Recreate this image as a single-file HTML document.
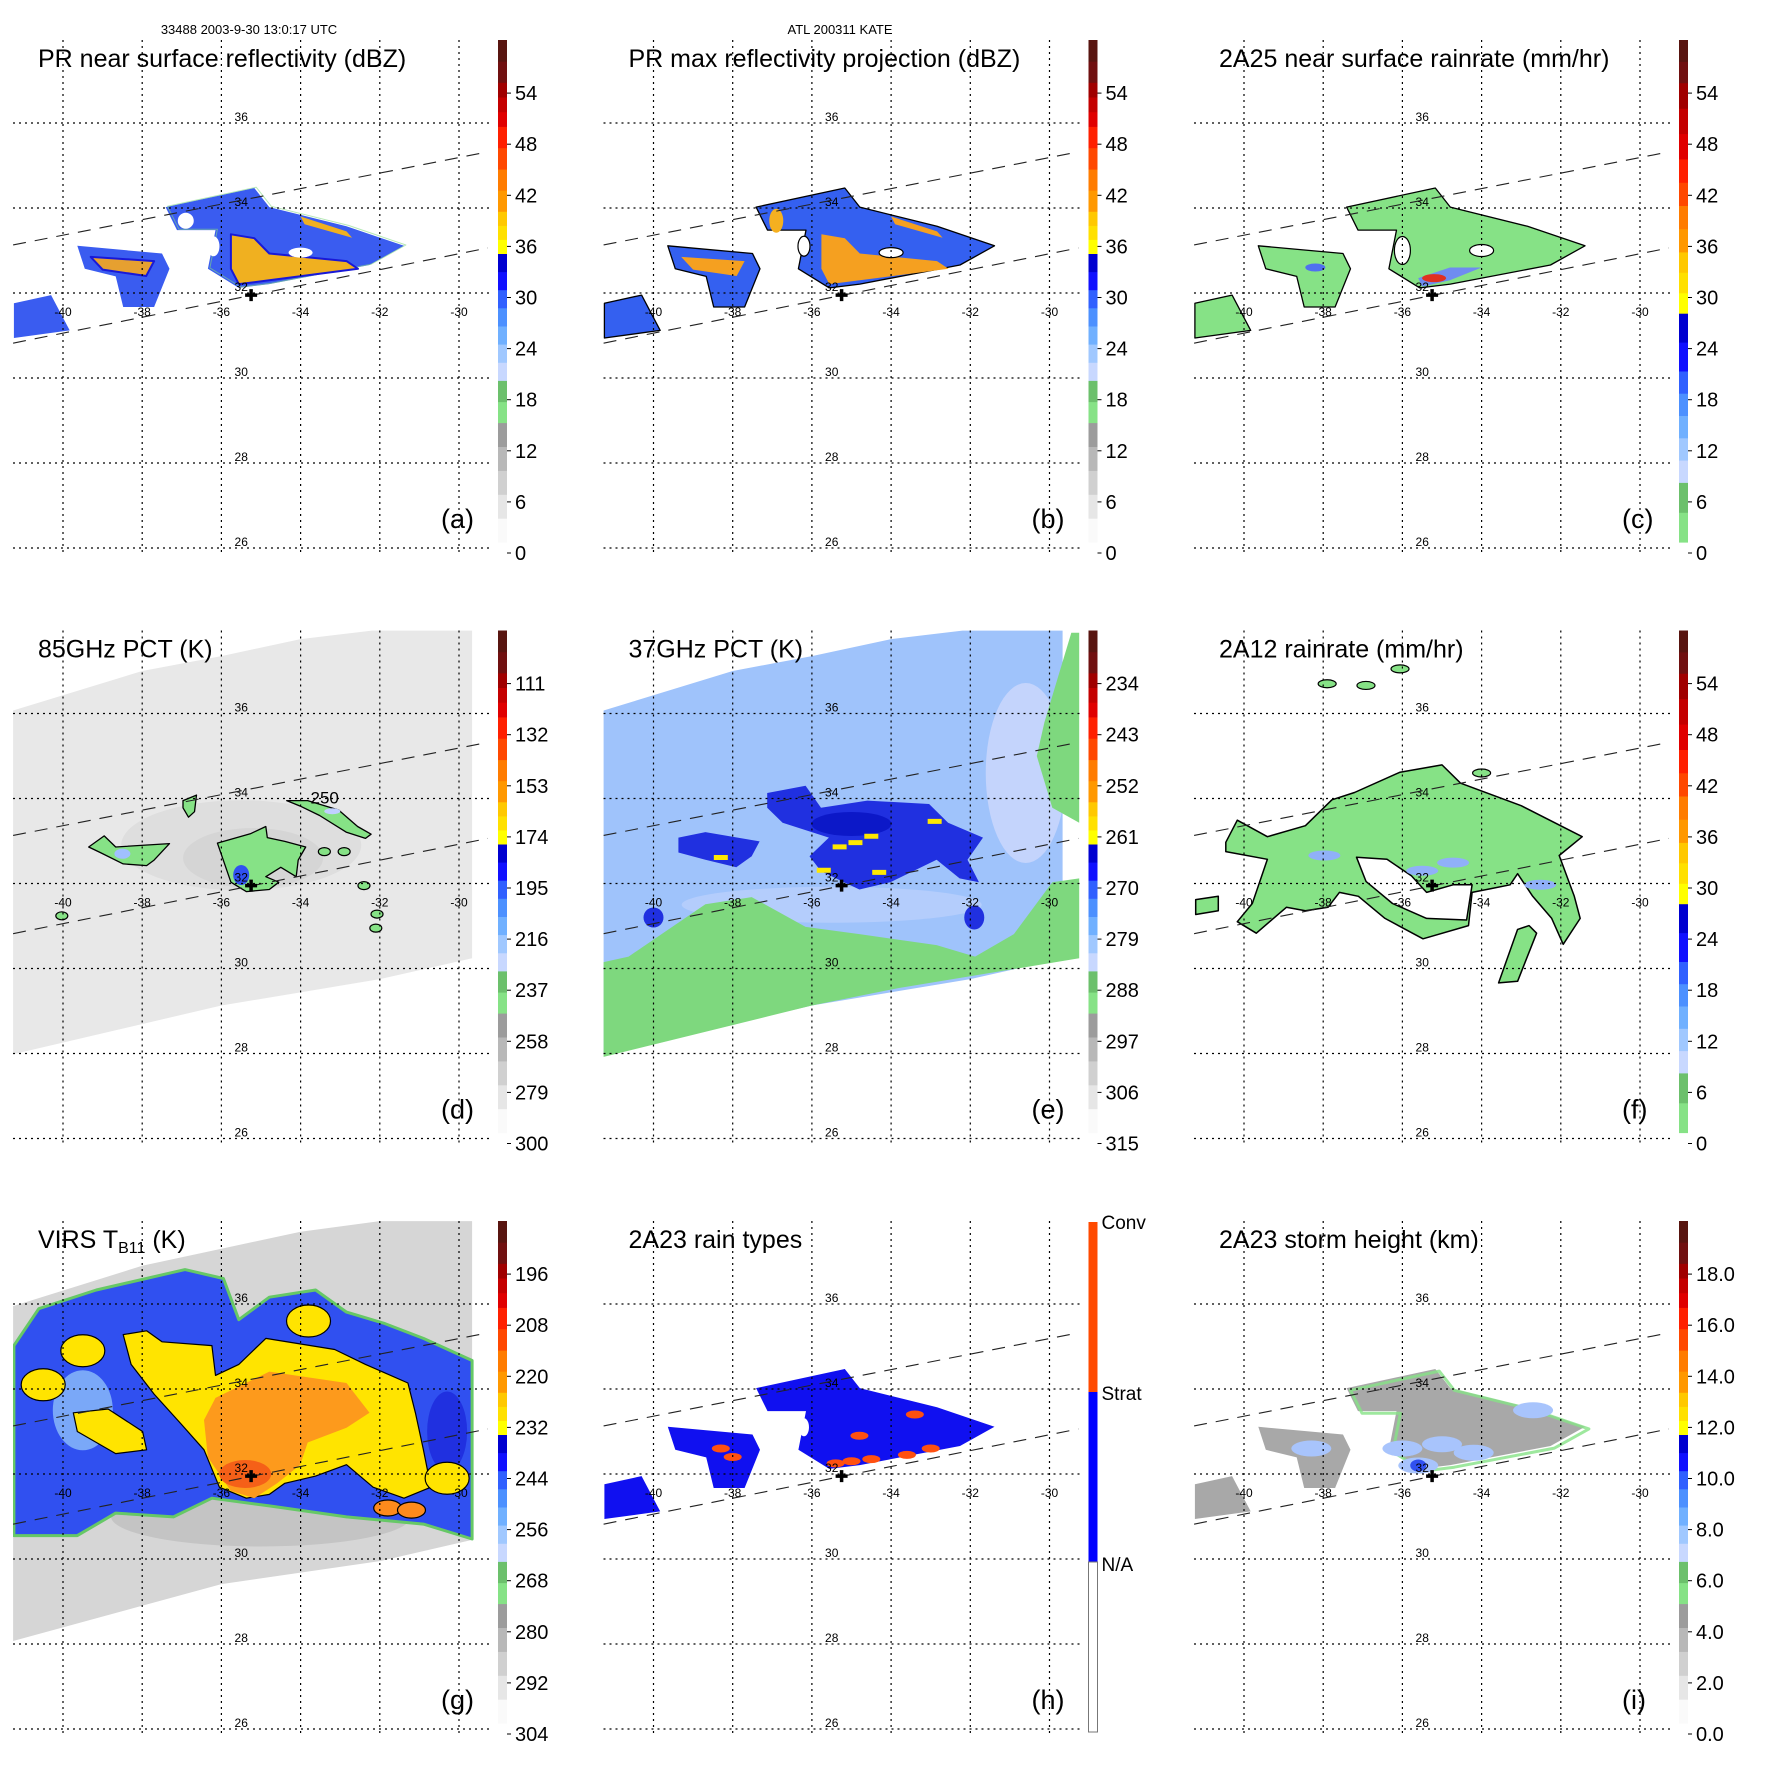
<!DOCTYPE html>
<html><head><meta charset="utf-8"><style>
html,body{margin:0;padding:0;background:#fff;}
svg{display:block;font-family:"Liberation Sans",sans-serif;}
</style></head><body>
<svg id="fig" width="1771" height="1771" viewBox="0 0 1771 1771" xmlns="http://www.w3.org/2000/svg">
<text x="249" y="34" font-size="13" text-anchor="middle">33488 2003-9-30 13:0:17 UTC</text>
<text x="840" y="34" font-size="13" text-anchor="middle">ATL 200311 KATE</text>
</svg>
<script>
// ---------- data (lon, lat) ----------
const lonTicks=[-40,-38,-36,-34,-32,-30];
const latTicks=[26,28,30,32,34,36];
const prSwathUpper=[[-41.26,33.13],[-29.27,35.32]];
const prSwathLower=[[-41.26,30.82],[-29.27,33.06]];
const tmiSwath=[[-41.26,36.07],[-38,37.0],[-36,37.35],[-34,37.75],[-32.2,37.95],[-29.67,37.95],[-29.67,30.24],[-32,29.75],[-36,29.13],[-41.26,27.98]];
const virsSwath=[[-41.26,35.95],[-38,36.9],[-36,37.3],[-34,37.7],[-32,37.95],[-29.67,37.95],[-29.67,30.45],[-32,29.95],[-36,29.41],[-41.26,28.07]];
const stormCenter=[-35.25,31.95];
const echoMain=[[-37.41,34.02],[-35.17,34.47],[-34.79,34.02],[-32.84,33.57],[-31.39,33.11],[-32.26,32.66],[-34.79,32.21],[-35.56,32.12],[-36.34,32.57],[-36.15,33.48],[-37.12,33.48]];
const echoCore=[[-35.76,33.38],[-35.17,33.29],[-34.79,32.93],[-32.84,32.75],[-32.55,32.57],[-34.79,32.30],[-35.56,32.21],[-35.76,32.57]];
const echoStreak=[[-34.0,33.80],[-32.84,33.45],[-32.7,33.30],[-33.9,33.62]];
const echoWest=[[-39.64,33.11],[-37.50,32.93],[-37.31,32.57],[-37.70,31.67],[-38.48,31.67],[-38.67,32.39],[-39.45,32.57]];
const echoWestCore=[[-39.3,32.85],[-37.7,32.75],[-37.9,32.4],[-39.0,32.55]];
const echoFarWest=[[-41.24,31.76],[-40.3,31.95],[-39.83,31.12],[-41.24,30.94]];
const convSpots=[[-35.4,32.25],[-35.0,32.3],[-34.5,32.35],[-33.6,32.45],[-33.0,32.6],[-38.3,32.6],[-38.0,32.4],[-34.8,32.9],[-33.4,33.4]];
const d_blob1=[[-39.35,32.86],[-38.96,33.12],[-38.67,32.86],[-37.31,32.94],[-37.70,32.55],[-37.89,32.42],[-38.48,32.46],[-39.06,32.73]];
const d_blob2=[[-36.10,32.95],[-35.27,33.17],[-34.88,33.34],[-34.84,33.08],[-34.40,32.99],[-33.87,32.86],[-34.06,32.55],[-34.11,32.16],[-34.50,32.38],[-34.88,32.16],[-34.55,32.03],[-34.79,31.86],[-35.37,31.81],[-35.76,32.03]];
const d_blob3=[[-34.35,33.95],[-33.82,33.95],[-33.04,33.73],[-32.56,33.34],[-32.22,33.16],[-32.36,33.06],[-32.85,33.21],[-33.52,33.60],[-34.01,33.82]];
const d_blob4=[[-36.97,33.95],[-36.63,34.08],[-36.68,33.69],[-36.83,33.56],[-36.97,33.78]];
const d_dots=[[-32.07,31.28],[-40.03,31.24],[-32.9,32.75],[-33.4,32.75],[-32.4,31.95],[-32.1,30.95]];
const e_green=[[-41.26,30.15],[-40.63,30.28],[-38.69,31.51],[-37.52,31.68],[-36.16,30.98],[-34.80,30.81],[-32.85,30.55],[-31.88,30.28],[-30.90,30.81],[-29.93,32.03],[-29.25,32.12],[-29.25,30.24],[-33.82,29.54],[-36,29.13],[-41.26,27.92]];
const e_greenNE=[[-30.13,35.79],[-29.45,37.9],[-29.25,37.9],[-29.25,33.43],[-29.93,33.78],[-30.32,35.0]];
const e_dark=[[-37.13,34.13],[-36.16,34.30],[-35.77,33.78],[-34.60,33.95],[-33.04,33.87],[-32.56,33.43],[-31.68,33.08],[-32.07,32.56],[-31.78,32.03],[-32.27,32.12],[-32.85,32.56],[-34.02,32.03],[-34.80,31.86],[-35.77,32.29],[-36.06,32.64],[-35.57,33.08],[-36.74,33.43],[-37.13,33.78]];
const e_darkWest=[[-39.37,33.08],[-38.69,33.21],[-37.32,32.99],[-37.52,32.64],[-37.91,32.38],[-38.69,32.56],[-39.37,32.73]];
const e_yellow=[[-35.3,32.85],[-34.9,32.95],[-34.3,32.25],[-32.9,33.45],[-38.3,32.6],[-35.7,32.3],[-34.5,33.1]];
const f_outer=[[-40.46,32.97],[-40.17,33.49],[-39.41,33.10],[-38.45,33.36],[-37.78,33.97],[-37.21,34.14],[-36.06,34.62],[-35.00,34.79],[-34.53,34.36],[-33.00,33.83],[-31.46,33.10],[-32.04,32.66],[-31.66,31.70],[-31.51,31.18],[-31.94,30.57],[-32.23,31.18],[-32.71,31.70],[-33.09,32.23],[-33.28,31.97],[-33.76,31.88],[-34.24,31.79],[-34.33,31.01],[-35.48,30.70],[-36.44,31.18],[-37.11,31.70],[-37.59,31.79],[-37.88,31.44],[-38.45,31.36],[-38.93,31.44],[-39.69,30.83],[-40.17,31.10],[-39.79,31.53],[-39.41,32.57],[-40.46,32.75]];
const f_hole=[[-37.16,32.62],[-36.39,32.57],[-35.77,32.18],[-35.39,31.79],[-34.72,31.97],[-34.24,31.97],[-34.38,31.14],[-35.39,31.18],[-36.25,31.53],[-36.92,32.05]];
const f_tail=[[-33.57,29.66],[-33.09,29.70],[-32.61,30.83],[-32.80,31.01],[-33.09,30.92]];
const f_farWest=[[-41.22,31.62],[-40.65,31.70],[-40.65,31.36],[-41.22,31.27]];
const f_blue=[[-37.97,32.66],[-34.72,32.49],[-32.52,31.97],[-35.5,32.3]];
const f_small=[[-36.06,37.05],[-36.92,36.66],[-37.9,36.7],[-34.0,34.6]];
const g_blue=[[-41.24,35.02],[-40.61,35.89],[-39.16,36.33],[-36.92,36.81],[-35.95,36.60],[-35.56,35.63],[-34.79,36.16],[-33.62,36.33],[-32.84,35.81],[-31.87,35.54],[-30.90,35.19],[-29.67,34.67],[-29.67,30.47],[-30.90,30.82],[-32.84,30.99],[-34.79,31.25],[-36.24,31.43],[-37.21,30.99],[-38.67,31.08],[-39.64,30.55],[-41.24,30.55]];
const g_yellow=[[-38.48,35.28],[-37.89,35.37],[-37.50,35.11],[-36.24,35.02],[-36.15,34.32],[-35.56,34.58],[-34.88,35.19],[-33.14,34.93],[-32.36,34.58],[-31.29,34.14],[-31.10,33.44],[-30.90,32.57],[-30.71,31.69],[-31.39,31.43],[-32.17,31.69],[-32.84,32.22],[-33.62,31.95],[-34.40,31.78],[-34.79,31.52],[-35.37,31.43],[-36.05,31.69],[-36.44,32.57],[-37.02,33.18],[-37.70,33.88],[-38.28,34.58]];
const g_orange=[[-36.15,33.79],[-34.79,34.41],[-32.84,34.14],[-32.26,33.44],[-32.84,33.09],[-33.82,32.74],[-34.01,32.22],[-34.59,31.78],[-35.17,31.43],[-35.76,31.60],[-36.34,32.39],[-36.44,33.27]];
const g_yellowWest=[[-39.74,33.44],[-38.86,33.53],[-37.99,33.0],[-37.89,32.57],[-38.67,32.48],[-39.64,33.0]];
const g_smallYellow=[[-40.5,34.1],[-39.5,34.9],[-33.8,35.6],[-30.3,31.9]];
const g_smallOrange=[[-31.8,31.2],[-31.2,31.15]];
const i_blue=[[-36.0,32.6],[-35.0,32.7],[-34.2,32.5],[-35.6,32.2],[-38.3,32.6],[-32.7,33.5]];
// colorbar tick labels
const ticksA=['0','6','12','18','24','30','36','42','48','54'];
const ticksD=['300','279','258','237','216','195','174','153','132','111'];
const ticksE=['315','306','297','288','279','270','261','252','243','234'];
const ticksG=['304','292','280','268','256','244','232','220','208','196'];
const ticksI=['0.0','2.0','4.0','6.0','8.0','10.0','12.0','14.0','16.0','18.0'];
const ticksH=['Conv','Strat','N/A'];

// ---------- helpers ----------
const NS='http://www.w3.org/2000/svg';
const svg=document.getElementById('fig');
const STEP=590.5;
function X(lon){return 63+(lon+40)*39.6;}
function Y(lat){return 548-(lat-26)*42.5;}
function el(tag,attrs,parent){const e=document.createElementNS(NS,tag);for(const k in attrs)e.setAttribute(k,attrs[k]);parent.appendChild(e);return e;}
function ptsStr(arr){return arr.map(p=>X(p[0]).toFixed(1)+','+Y(p[1]).toFixed(1)).join(' ');}
function poly(g,arr,fill,stroke,sw,name){const p=el('polygon',{points:ptsStr(arr),fill:fill,stroke:stroke||'none','stroke-width':sw||0,'stroke-linejoin':'round'},g);

return p;}
function spot(g,pt,rx,ry,fill,stroke,name){const e=el('ellipse',{cx:X(pt[0]),cy:Y(pt[1]),rx:rx,ry:ry,fill:fill,stroke:stroke||'none','stroke-width':stroke?1.2:0},g);

return e;}

const barA=[[0,.238,['#fafafa','#e6e6e6','#d0d0d0','#b8b8b8','#9c9c9c']],[.238,.322,['#86e286','#6cc06c']],[.322,.575,['#c8d8ff','#a0c8ff','#70b0ff','#4c90ff','#3060ff','#1010ff','#0000d0']],[.575,.659,['#ffff00','#ffe000','#ffc800']],[.659,.743,['#ff9800','#ff7c00']],[.743,.828,['#ff4800','#ff2000']],[.828,.916,['#e00000','#c40000','#a00000']],[.916,1,['#701010','#581510']]];
const barC=[[0,.119,['#86e286','#6cc06c']],[.119,.341,['#c8d8ff','#a0c8ff','#70b0ff','#4c90ff','#3060ff']],[.341,.456,['#1010ff','#0000d0']],[.456,.578,['#ffff00','#ffe000','#ffc800']],[.578,.763,['#ff9800','#ff7c00','#ff4800','#ff2000']],[.763,.915,['#e00000','#c40000','#a00000']],[.915,1,['#701010','#581510']]];

function colorbar(g,segs,labels){
  const top=40,bot=542,x=498,w=9,h=bot-top;
  const gb=el('g',{},g);
  
  
  segs.forEach(s=>{const n=s[2].length;for(let i=0;i<n;i++){const f0=s[0]+(s[1]-s[0])*i/n,f1=s[0]+(s[1]-s[0])*(i+1)/n;
    el('rect',{x:x,y:(bot-f1*h).toFixed(1),width:w,height:(h*(f1-f0)+0.6).toFixed(1),fill:s[2][i]},gb);}});
  labels.forEach((t,i)=>{const tx=el('text',{x:515,y:(553-i*51.1+7).toFixed(1),'font-size':20},gb);tx.textContent=t;
    
    
    el('line',{x1:507,x2:511,y1:553-i*51.1,y2:553-i*51.1,stroke:'#000','stroke-width':1},gb);});
}
function grid(g){
  const gg=el('g',{},g);
  
  
  lonTicks.forEach(l=>{el('line',{x1:X(l),x2:X(l),y1:40,y2:552,stroke:'#000','stroke-width':1.2,'stroke-dasharray':'2,4'},gg);
    const t=el('text',{x:X(l),y:316,'font-size':12,'text-anchor':'middle'},gg);t.textContent=l;
    
    });
  latTicks.forEach(l=>{el('line',{x1:13,x2:490,y1:Y(l),y2:Y(l),stroke:'#000','stroke-width':1.2,'stroke-dasharray':'2,4'},gg);
    const t=el('text',{x:X(-35.5),y:Y(l)-2,'font-size':12,'text-anchor':'middle'},gg);t.textContent=l;
    
    });
}
function swathLines(g){
  [prSwathUpper,prSwathLower].forEach(s=>{const l=el('line',{x1:X(s[0][0]),y1:Y(s[0][1]),x2:X(s[1][0]),y2:Y(s[1][1]),stroke:'#222','stroke-width':1.1,'stroke-dasharray':'13,9'},g);
    
    });
}
function cross(g){const x=X(stormCenter[0]),y=Y(stormCenter[1]);
  const c=el('path',{d:`M${x-6},${y}H${x+6}M${x},${y-6}V${y+6}`,stroke:'#000','stroke-width':3.5},g);
  
  }
function panel(col,row,title,letter,name){
  const g=el('g',{transform:`translate(${(col*STEP).toFixed(1)},${(row*STEP).toFixed(1)})`},svg);
  
  
  const cid='clip'+col+row;
  const cp=el('clipPath',{id:cid},g);el('rect',{x:13,y:40,width:477,height:512},cp);
  const data=el('g',{'clip-path':`url(#${cid})`},g);
  
  
  return {g,data,title,letter};
}
function finish(p,titleFn){
  grid(p.g);swathLines(p.g);cross(p.g);
  const t=el('text',{x:38,y:67,'font-size':25},p.g);
  
  
  if(titleFn)titleFn(t);else t.textContent=p.title;
  const l=el('text',{x:441,y:528,'font-size':27},p.g);l.textContent='('+p.letter+')';
  
  
}
function prEcho(d,base,edge,sw){
  [echoMain,echoWest,echoFarWest].forEach(a=>poly(d,a,base,edge,sw,'rain-echo'));
}

// (a) PR near surface reflectivity
let p=panel(0,0,'PR near surface reflectivity (dBZ)','a','panel-a-pr-reflectivity');
prEcho(p.data,'#3a5cf0');
poly(p.data,echoMain.map(q=>[q[0]+0.05,q[1]+0.02]),'none','#86d886',1,'echo-edge').setAttribute('stroke-opacity','0.6');
poly(p.data,echoCore,'#f0b020','#1818d8',2,'core-echo');
poly(p.data,echoStreak,'#f0b020','none',0,'streak-echo');
poly(p.data,echoWestCore,'#e6a030','#1818d8',2,'west-core-echo');
spot(p.data,[-36.9,33.7],8,8,'#ffffff');
spot(p.data,[-34.0,32.95],12,5,'#ffffff');
spot(p.data,[-36.2,33.1],6,10,'#ffffff');
colorbar(p.g,barA,ticksA);finish(p);

// (b) PR max reflectivity
p=panel(1,0,'PR max reflectivity projection (dBZ)','b','panel-b-pr-max-reflectivity');
prEcho(p.data,'#3460f0','#000',1.3);
poly(p.data,echoCore,'#f5a020','none',0,'core-echo');
poly(p.data,echoStreak,'#f5a020','none',0,'streak-echo');
poly(p.data,echoWestCore,'#f5a020','none',0,'west-core-echo');
spot(p.data,[-36.9,33.7],7,12,'#f5b020');
spot(p.data,[-34.0,32.95],12,5,'#ffffff','#000');
spot(p.data,[-36.2,33.1],6,10,'#ffffff','#000');
colorbar(p.g,barA,ticksA);finish(p);

// (c) 2A25 rainrate
p=panel(2,0,'2A25 near surface rainrate (mm/hr)','c','panel-c-2a25-rainrate');
prEcho(p.data,'#86e286','#000',1.3);
poly(p.data,[[-35.6,32.35],[-34.8,32.6],[-34.0,32.6],[-34.8,32.3],[-35.5,32.15]],'#6f8cf0','none',0,'heavy-rain');
spot(p.data,[-35.2,32.35],12,4,'#e03020');
spot(p.data,[-38.2,32.6],10,4,'#5070f0');
spot(p.data,[-36.0,33.0],8,14,'#ffffff','#000');
spot(p.data,[-34.0,33.0],12,6,'#ffffff','#000');
colorbar(p.g,barC,ticksA);finish(p);

// (d) 85GHz PCT
p=panel(0,1,'85GHz PCT (K)','d','panel-d-85ghz-pct');
poly(p.data,tmiSwath,'#e8e8e8','none',0,'tmi-swath');
spot(p.data,[-35.5,32.9],120,45,'#dedede');
spot(p.data,[-35.2,32.6],70,30,'#d2d2d2').setAttribute('opacity','0.7');
[d_blob1,d_blob2,d_blob3,d_blob4].forEach(b=>poly(p.data,b,'#86e286','#000',1.3,'cold-pct-region'));
spot(p.data,[-35.5,32.2],8,10,'#3050f0');
spot(p.data,[-38.5,32.7],8,5,'#a0c0ff');
spot(p.data,[-33.2,33.7],8,3,'#c0d0ff');
d_dots.forEach(q=>spot(p.data,q,6,4,'#86e286','#000','small-cell'));
colorbar(p.g,barA,ticksD);finish(p);
{const t=el('text',{x:X(-33.75),y:Y(33.6)-12,'font-size':17},p.g);t.textContent='250';

}

// (e) 37GHz PCT
p=panel(1,1,'37GHz PCT (K)','e','panel-e-37ghz-pct');
poly(p.data,tmiSwath,'#9fc3fb','none',0,'tmi-swath');
spot(p.data,[-30.6,34.6],40,90,'#c4d4fc');
spot(p.data,[-35.5,31.5],150,18,'#b4cdfc');
poly(p.data,e_green,'#7ed87e','none',0,'warm-ocean');
poly(p.data,e_greenNE,'#7ed87e','none',0,'warm-ocean-ne');
poly(p.data,e_dark,'#2030e0','none',0,'cold-pct-core');
poly(p.data,e_darkWest,'#2030e0','none',0,'cold-pct-west');
spot(p.data,[-40.0,31.2],10,10,'#2030e0');
spot(p.data,[-31.9,31.2],10,12,'#2030e0');
spot(p.data,[-35.0,33.4],40,12,'#0c18c8');
e_yellow.forEach(q=>el('rect',{x:X(q[0])-7,y:Y(q[1])-3,width:14,height:5,fill:'#ffe800'},p.data));
colorbar(p.g,barA,ticksE);finish(p);

// (f) 2A12 rainrate
p=panel(2,1,'2A12 rainrate (mm/hr)','f','panel-f-2a12-rainrate');
poly(p.data,f_outer,'#86e286','#000',1.5,'rain-area');
poly(p.data,f_hole,'#ffffff','#000',1.5,'rain-free-eye');
poly(p.data,f_tail,'#86e286','#000',1.5,'rain-band-tail');
poly(p.data,f_farWest,'#86e286','#000',1.5,'rain-far-west');
f_blue.forEach(q=>spot(p.data,q,16,5,'#90b0f8'));
f_small.forEach(q=>spot(p.data,q,9,4,'#86e286','#000'));
colorbar(p.g,barC,ticksA);finish(p);

// (g) VIRS TB11
p=panel(0,2,'VIRS','g','panel-g-virs-tb11');
poly(p.data,virsSwath,'#d6d6d6','none',0,'virs-swath');
spot(p.data,[-35,31.0],150,30,'#c4c4c4');
poly(p.data,g_blue,'#3050f0','#66c866',3,'cold-cloud');
spot(p.data,[-39.5,33.5],30,40,'#7aa8f8');
spot(p.data,[-30.3,33.0],20,40,'#2030e0');
poly(p.data,g_yellow,'#ffe400','#000',1.2,'very-cold-cloud');
poly(p.data,g_yellowWest,'#ffe400','#000',1.2,'very-cold-cloud-west');
g_smallYellow.forEach(q=>spot(p.data,q,22,16,'#ffe400','#000'));
poly(p.data,g_orange,'#fd9a1c','none',0,'coldest-cloud');
spot(p.data,[-35.4,32.0],26,14,'#f56018');
g_smallOrange.forEach(q=>spot(p.data,q,14,8,'#fd8a1c','#000'));
colorbar(p.g,barA,ticksG);
finish(p,t=>{t.textContent='VIRS T';const s=el('tspan',{'font-size':16,dy:5},t);s.textContent='B11';const s2=el('tspan',{dy:-5},t);s2.textContent=' (K)';});

// (h) 2A23 rain types
p=panel(1,2,'2A23 rain types','h','panel-h-2a23-rain-types');
prEcho(p.data,'#1010f0');
convSpots.forEach(q=>spot(p.data,q,9,4,'#ff5010'));
spot(p.data,[-36.2,33.1],5,9,'#ffffff');
{const gb=el('g',{},p.g);


el('rect',{x:498,y:41,width:9,height:170,fill:'#ff4a00'},gb);
el('rect',{x:498,y:211,width:9,height:170,fill:'#0000ff'},gb);
el('rect',{x:498,y:381,width:9,height:170,fill:'#fff',stroke:'#777','stroke-width':1},gb);
[48,219,390].forEach((y,i)=>{const t=el('text',{x:511,y:y,'font-size':19},gb);t.textContent=ticksH[i];

});}
finish(p);

// (i) 2A23 storm height
p=panel(2,2,'2A23 storm height (km)','i','panel-i-storm-height');
prEcho(p.data,'#a8a8a8');
poly(p.data,echoMain.map(q=>[q[0]+0.1,q[1]-0.05]),'none','#86e286',3,'echo-green-rim').setAttribute('stroke-opacity','0.8');
i_blue.forEach(q=>spot(p.data,q,20,8,'#a8c4fc'));
spot(p.data,[-35.6,32.2],8,6,'#3050f0');
colorbar(p.g,barA,ticksI);finish(p);
</script>
</body></html>
